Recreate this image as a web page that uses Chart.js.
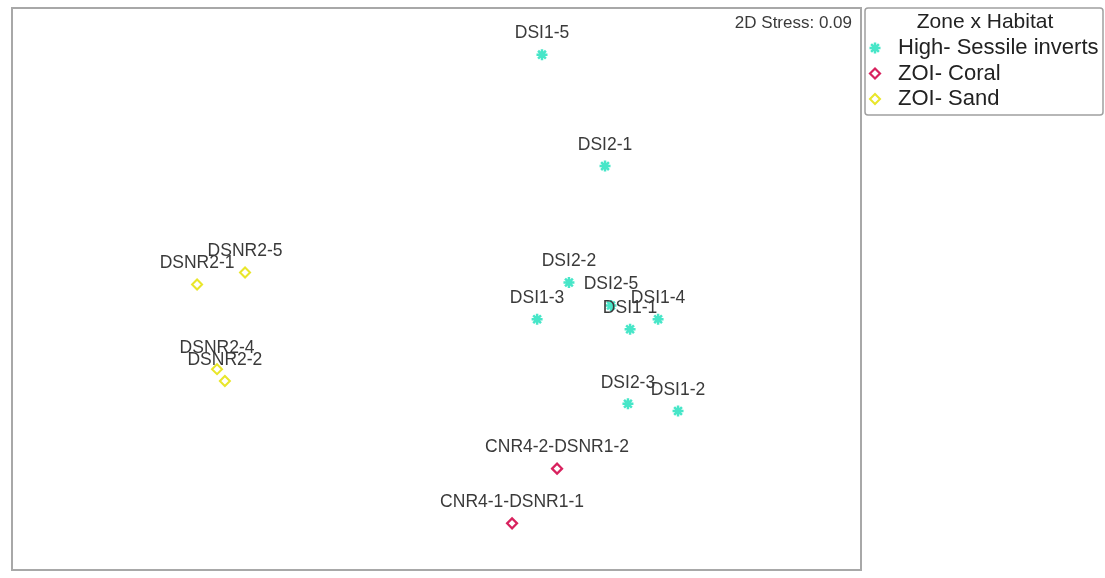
<!DOCTYPE html>
<html>
<head>
<meta charset="utf-8">
<title>nMDS – Zone x Habitat</title>
<script src="https://cdn.jsdelivr.net/npm/chart.js@4/dist/chart.umd.min.js"></script>
<style>
  html, body { margin: 0; padding: 0; background: #ffffff; }
  #wrap { width: 1105px; height: 578px; position: relative; }
</style>
</head>
<body>
<div id="wrap"><canvas id="mds" width="1105" height="578"></canvas></div>
<script>
// nMDS ordination coordinates (dimensionless), grouped by Zone x Habitat
const groupNames = ['High- Sessile inverts', 'ZOI- Coral', 'ZOI- Sand'];

const sessileLabels = ['DSI1-5', 'DSI2-1', 'DSI2-2', 'DSI2-5', 'DSI1-3', 'DSI1-1', 'DSI1-4', 'DSI2-3', 'DSI1-2'];
const sessileX = [0.497, 0.794, 0.624, 0.822, 0.474, 0.912, 1.044, 0.902, 1.138];
const sessileY = [1.251, 0.656, 0.035, -0.088, -0.162, -0.215, -0.162, -0.613, -0.651];

const coralLabels = ['CNR4-2-DSNR1-2', 'CNR4-1-DSNR1-1'];
const coralX = [0.568, 0.356];
const coralY = [-0.959, -1.251];

const sandLabels = ['DSNR2-5', 'DSNR2-1', 'DSNR2-4', 'DSNR2-2'];
const sandX = [-0.902, -1.128, -1.034, -0.997];
const sandY = [0.088, 0.024, -0.428, -0.491];

const stressText = '2D Stress: 0.09';
const legendTitle = 'Zone x Habitat';

const FONT = '"Liberation Sans", Arial, sans-serif';

function toPoints(xs, ys, labels) {
  return xs.map((x, i) => ({ x: x, y: ys[i], label: labels[i] }));
}

// Sample names above each point, stress value in the corner, plot frame
const annotate = {
  id: 'annotate',
  afterDatasetsDraw(chart) {
    const ctx = chart.ctx;
    const area = chart.chartArea;
    ctx.save();
    ctx.font = '17.5px ' + FONT;
    ctx.fillStyle = '#3a3a3a';
    ctx.textAlign = 'center';
    ctx.textBaseline = 'middle';
    chart.data.datasets.forEach((ds, di) => {
      const meta = chart.getDatasetMeta(di);
      meta.data.forEach((el, i) => {
        ctx.fillText(ds.data[i].label, el.x, el.y - 21);
      });
    });
    ctx.font = '17px ' + FONT;
    ctx.textAlign = 'right';
    ctx.fillText(stressText, area.right - 9, area.top + 15);
    ctx.strokeStyle = '#a8a8a8';
    ctx.lineWidth = 2;
    ctx.strokeRect(area.left, area.top, area.right - area.left, area.bottom - area.top);
    ctx.restore();
  }
};

// Legend box to the right of the plot, built from the dataset styles
const sideLegend = {
  id: 'sideLegend',
  afterDraw(chart) {
    const ctx = chart.ctx;
    const area = chart.chartArea;
    const x0 = area.right + 4, y0 = area.top, w = 238, h = 107;
    ctx.save();
    ctx.strokeStyle = '#a0a0a0';
    ctx.lineWidth = 1.5;
    ctx.beginPath();
    ctx.roundRect(x0, y0, w, h, 3);
    ctx.stroke();

    ctx.fillStyle = '#222';
    ctx.font = '21px ' + FONT;
    ctx.textAlign = 'center';
    ctx.textBaseline = 'middle';
    ctx.fillText(legendTitle, x0 + 120, y0 + 14);

    chart.data.datasets.forEach((ds, i) => {
      const cy = y0 + 40 + i * 25.5;
      ctx.save();
      ctx.fillStyle = ds.backgroundColor;
      ctx.strokeStyle = ds.borderColor;
      ctx.lineWidth = ds.borderWidth;
      Chart.helpers.drawPoint(ctx, {
        pointStyle: ds.pointStyle,
        radius: ds.pointRadius,
        borderWidth: ds.borderWidth
      }, x0 + 10, cy);
      ctx.restore();

      ctx.fillStyle = '#222';
      ctx.font = '22px ' + FONT;
      ctx.textAlign = 'left';
      ctx.textBaseline = 'middle';
      ctx.fillText(ds.label, x0 + 33, cy);
    });
    ctx.restore();
  }
};

new Chart(document.getElementById('mds'), {
  type: 'scatter',
  data: {
    datasets: [
      {
        label: groupNames[0],
        data: toPoints(sessileX, sessileY, sessileLabels),
        pointStyle: 'star',
        pointRadius: 5.5,
        borderWidth: 2.5,
        backgroundColor: '#47e6c8',
        borderColor: '#47e6c8'
      },
      {
        label: groupNames[1],
        data: toPoints(coralX, coralY, coralLabels),
        pointStyle: 'rectRot',
        pointRadius: 5,
        borderWidth: 2.2,
        backgroundColor: 'rgba(0,0,0,0)',
        borderColor: '#d8225e'
      },
      {
        label: groupNames[2],
        data: toPoints(sandX, sandY, sandLabels),
        pointStyle: 'rectRot',
        pointRadius: 5,
        borderWidth: 2,
        backgroundColor: 'rgba(0,0,0,0)',
        borderColor: '#e9e62a'
      }
    ]
  },
  options: {
    responsive: false,
    animation: false,
    layout: { padding: { left: 12, top: 7, right: 244, bottom: 6 } },
    scales: {
      x: { type: 'linear', min: -2, max: 2, display: false },
      y: { type: 'linear', min: -1.5, max: 1.5, display: false }
    },
    plugins: {
      legend: { display: false },
      tooltip: { enabled: false }
    }
  },
  plugins: [annotate, sideLegend]
});
</script>
</body>
</html>
